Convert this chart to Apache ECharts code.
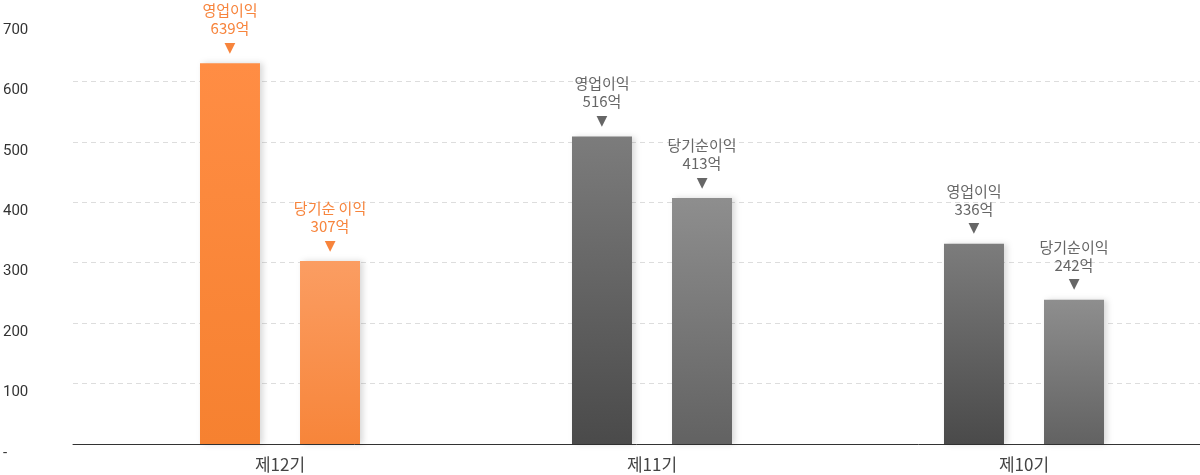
<!DOCTYPE html>
<html>
<head>
<meta charset="utf-8">
<script src="https://cdn.jsdelivr.net/npm/echarts@6/dist/echarts.min.js"></script>
<style>
	html, body { margin: 0; padding: 0; background: #fff; overflow: hidden; }
	#chart { width: 1210px; height: 475px; }
</style>
</head>
<body>
<div id="chart"></div>
<script>
	var categories = ['제12기', '제11기', '제10기']
	var operatingProfit = [639, 516, 336]
	var netProfit = [307, 413, 242]
	var operatingNames = ['영업이익', '영업이익', '영업이익']
	var netNames = ['당기순 이익', '당기순이익', '당기순이익']

	var font = '"Noto Sans CJK KR", "Noto Sans", sans-serif'

	// first period is highlighted orange, the rest gray
	function barColor(i, second) {
		if (i === 0) {
			return second
				? new echarts.graphic.LinearGradient(0, 0, 0, 1, [{ offset: 0, color: '#fb9d62' }, { offset: 1, color: '#f7853a' }])
				: new echarts.graphic.LinearGradient(0, 0, 0, 1, [{ offset: 0, color: '#ff8d44' }, { offset: 1, color: '#f68130' }])
		}
		return second
			? new echarts.graphic.LinearGradient(0, 0, 0, 1, [{ offset: 0, color: '#8e8e8e' }, { offset: 1, color: '#626262' }])
			: new echarts.graphic.LinearGradient(0, 0, 0, 1, [{ offset: 0, color: '#7c7c7c' }, { offset: 1, color: '#4a4a4a' }])
	}

	function labelColor(i) {
		return i === 0 ? '#f7843c' : '#666666'
	}

	function buildData(values, names, second) {
		return values.map(function (v, i) {
			var c = labelColor(i)
			return {
				value: v,
				itemStyle: { color: barColor(i, second) },
				label: {
					formatter: '{n|' + names[i] + '}\n{n|' + v + '억}\n{t|▼}',
					rich: {
						n: { fontSize: 15, lineHeight: 18, color: c, fontFamily: font },
						t: { fontSize: 14, lineHeight: 22, color: c, fontFamily: 'DejaVu Sans' }
					}
				}
			}
		})
	}

	var chart = echarts.init(document.getElementById('chart'))
	chart.setOption({
		animation: false,
		grid: [
			{ left: 94, right: 0, top: 21, bottom: 31 },
			{ left: 70, right: 10, top: 21, bottom: 31 }
		],
		xAxis: [
			{
				type: 'category',
				gridIndex: 0,
				data: categories,
				axisLine: { show: false },
				axisTick: { show: false },
				axisLabel: {
					margin: 12,
					fontSize: 17,
					color: '#444',
					fontFamily: font
				}
			},
			{
				type: 'category',
				gridIndex: 1,
				data: categories,
				axisLine: { show: true, lineStyle: { color: '#333', width: 1 } },
				axisTick: { show: false },
				axisLabel: { show: false }
			}
		],
		yAxis: [
			{
				// bars in the original sit a little lower than the printed scale
				type: 'value',
				gridIndex: 0,
				min: 0,
				max: 710,
				show: false
			},
			{
				type: 'value',
				gridIndex: 1,
				min: 0,
				max: 700,
				interval: 100,
				axisLine: { show: false },
				axisTick: { show: false },
				splitLine: {
					show: true,
					showMaxLine: false,
					lineStyle: { color: '#dddddd', type: [5, 4] }
				},
				axisLabel: {
					align: 'left',
					verticalAlign: 'top',
					lineHeight: 18,
					margin: 70,
					fontSize: 15,
					color: '#333',
					fontFamily: 'Roboto, sans-serif',
					formatter: function (v) {
						return v === 0 ? '-' : v
					}
				}
			}
		],
		series: [
			{
				name: '영업이익',
				type: 'bar',
				xAxisIndex: 0,
				yAxisIndex: 0,
				barWidth: 60,
				barGap: '66.7%',
				data: buildData(operatingProfit, operatingNames, false),
				itemStyle: {
					shadowBlur: 6,
					shadowOffsetX: 3,
					shadowColor: 'rgba(0,0,0,0.15)'
				},
				label: { show: true, position: 'top', distance: 4, align: 'center' }
			},
			{
				name: '당기순이익',
				type: 'bar',
				xAxisIndex: 0,
				yAxisIndex: 0,
				barWidth: 60,
				data: buildData(netProfit, netNames, true),
				itemStyle: {
					shadowBlur: 6,
					shadowOffsetX: 3,
					shadowColor: 'rgba(0,0,0,0.15)'
				},
				label: { show: true, position: 'top', distance: 4, align: 'center' }
			}
		]
	})
</script>
</body>
</html>
